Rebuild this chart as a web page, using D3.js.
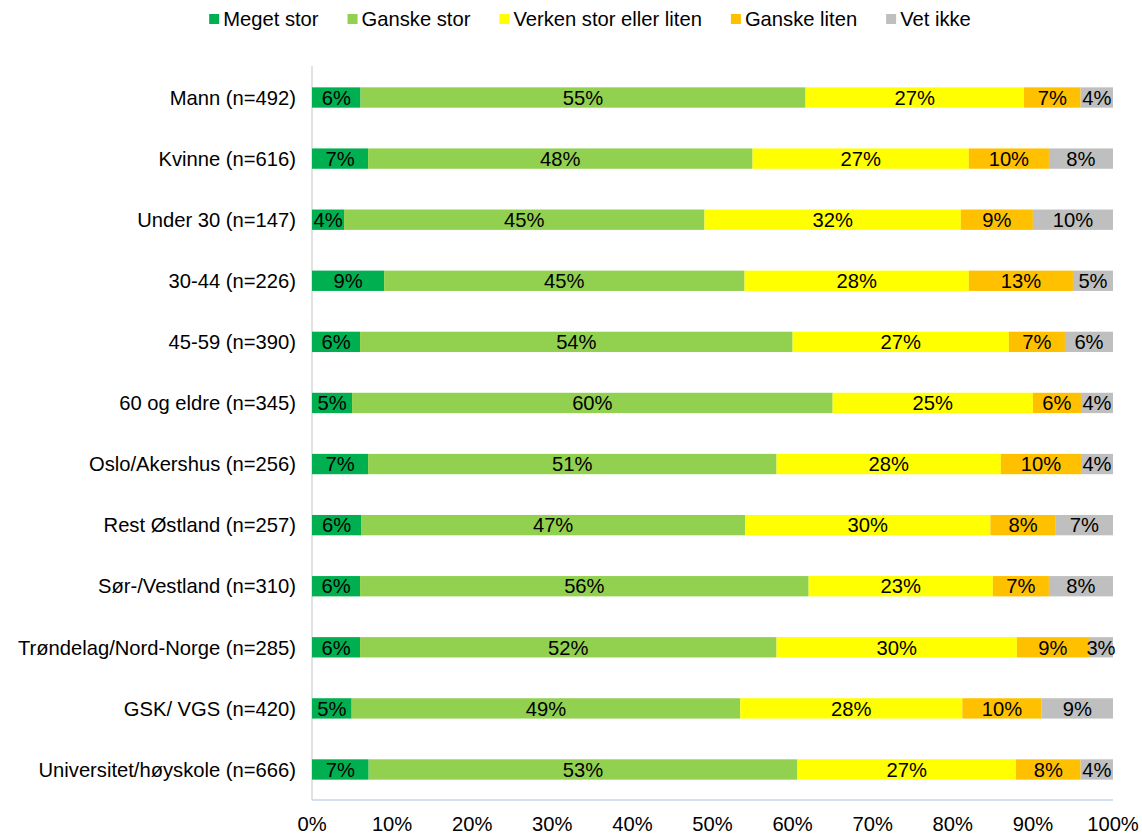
<!DOCTYPE html>
<meta charset="utf-8">
<title>Stacked bar</title>
<script src="https://d3js.org/d3.v7.min.js"></script>
<style>
  body { margin: 0; background: #fff; }
  text { font-family: "Liberation Sans", Arial, sans-serif; fill: #000; }
</style>
<body>
<script>

// categories, top to bottom
const categories = [
  "Mann (n=492)", "Kvinne (n=616)", "Under 30 (n=147)", "30-44 (n=226)",
  "45-59 (n=390)", "60 og eldre (n=345)", "Oslo/Akershus (n=256)",
  "Rest Østland (n=257)", "Sør-/Vestland (n=310)",
  "Trøndelag/Nord-Norge (n=285)", "GSK/ VGS (n=420)",
  "Universitet/høyskole (n=666)"
];

// series, values in percent
const seriesNames = ["Meget stor", "Ganske stor", "Verken stor eller liten", "Ganske liten", "Vet ikke"];
const megetStor   = [6, 7, 4, 9, 6, 5, 7, 6, 6, 6, 5, 7];
const ganskeStor  = [55, 48, 45, 45, 54, 60, 51, 47, 56, 52, 49, 53];
const verken      = [27, 27, 32, 28, 27, 25, 28, 30, 23, 30, 28, 27];
const ganskeLiten = [7, 10, 9, 13, 7, 6, 10, 8, 7, 9, 10, 8];
const vetIkke     = [4, 8, 10, 5, 6, 4, 4, 7, 8, 3, 9, 4];

const colors = ["#00B050", "#92D050", "#FFFF00", "#FFC000", "#BFBFBF"];
const xTicks = [0, 0.1, 0.2, 0.3, 0.4, 0.5, 0.6, 0.7, 0.8, 0.9, 1];

const width = 1142, height = 835;
const margin = { top: 67, right: 29, bottom: 35, left: 312 };
const fontSize = 20.2;

const rows = categories.map((c, i) => ({
  cat: c,
  "Meget stor": megetStor[i],
  "Ganske stor": ganskeStor[i],
  "Verken stor eller liten": verken[i],
  "Ganske liten": ganskeLiten[i],
  "Vet ikke": vetIkke[i]
}));

// 100% stacked
const stacked = d3.stack()
  .keys(seriesNames)
  .offset(d3.stackOffsetExpand)(rows);

const svg = d3.select("body").append("svg")
  .attr("width", width)
  .attr("height", height);

const x = d3.scaleLinear()
  .domain([0, 1])
  .range([margin.left, width - margin.right]);

const y = d3.scaleBand()
  .domain(categories)
  .range([margin.top, height - margin.bottom])
  .paddingInner(0.667)
  .paddingOuter(0.333);

// vertical axis line
svg.append("line")
  .attr("x1", x(0)).attr("x2", x(0))
  .attr("y1", margin.top - 1).attr("y2", height - margin.bottom)
  .attr("stroke", "#d9d9d9")
  .attr("stroke-width", 1.5);

// bars
const groups = svg.selectAll("g.series")
  .data(stacked)
  .join("g")
  .attr("class", "series")
  .attr("fill", (d, i) => colors[i]);

groups.selectAll("rect")
  .data(d => d.map(p => ({ p, key: d.key })))
  .join("rect")
  .attr("x", d => x(d.p[0]))
  .attr("y", d => y(d.p.data.cat))
  .attr("width", d => x(d.p[1]) - x(d.p[0]))
  .attr("height", y.bandwidth());

// value labels
groups.selectAll("text")
  .data(d => d.map(p => ({ p, key: d.key })))
  .join("text")
  .attr("x", d => (x(d.p[0]) + x(d.p[1])) / 2)
  .attr("y", d => y(d.p.data.cat) + y.bandwidth() / 2)
  .attr("dy", "0.36em")
  .attr("text-anchor", "middle")
  .attr("font-size", fontSize)
  .text(d => d.p.data[d.key] + "%");

// bottom axis line
svg.append("line")
  .attr("x1", x(0)).attr("x2", x(1))
  .attr("y1", height - margin.bottom).attr("y2", height - margin.bottom)
  .attr("stroke", "#c5d3ea")
  .attr("stroke-width", 1.5);

// x tick labels
svg.append("g")
  .selectAll("text")
  .data(xTicks)
  .join("text")
  .attr("x", d => x(d))
  .attr("y", 824)
  .attr("dy", "0.36em")
  .attr("text-anchor", "middle")
  .attr("font-size", fontSize)
  .text(d3.format(".0%"));

// category labels
svg.append("g")
  .selectAll("text")
  .data(categories)
  .join("text")
  .attr("x", 296)
  .attr("y", d => y(d) + y.bandwidth() / 2)
  .attr("dy", "0.36em")
  .attr("text-anchor", "end")
  .attr("font-size", fontSize)
  .text(d => d);

// legend
const legend = svg.append("g");
let lx = 0;
seriesNames.forEach((name, i) => {
  const item = legend.append("g").attr("transform", `translate(${lx},0)`);
  item.append("rect")
    .attr("x", 0).attr("y", -5)
    .attr("width", 10).attr("height", 10)
    .attr("fill", colors[i]);
  const t = item.append("text")
    .attr("x", 14)
    .attr("dy", "0.36em")
    .attr("font-size", fontSize)
    .text(name);
  lx += 14 + t.node().getComputedTextLength() + 29;
});
const legendW = lx - 29;
legend.attr("transform", `translate(${590 - legendW / 2},19)`);

</script>
</body>
